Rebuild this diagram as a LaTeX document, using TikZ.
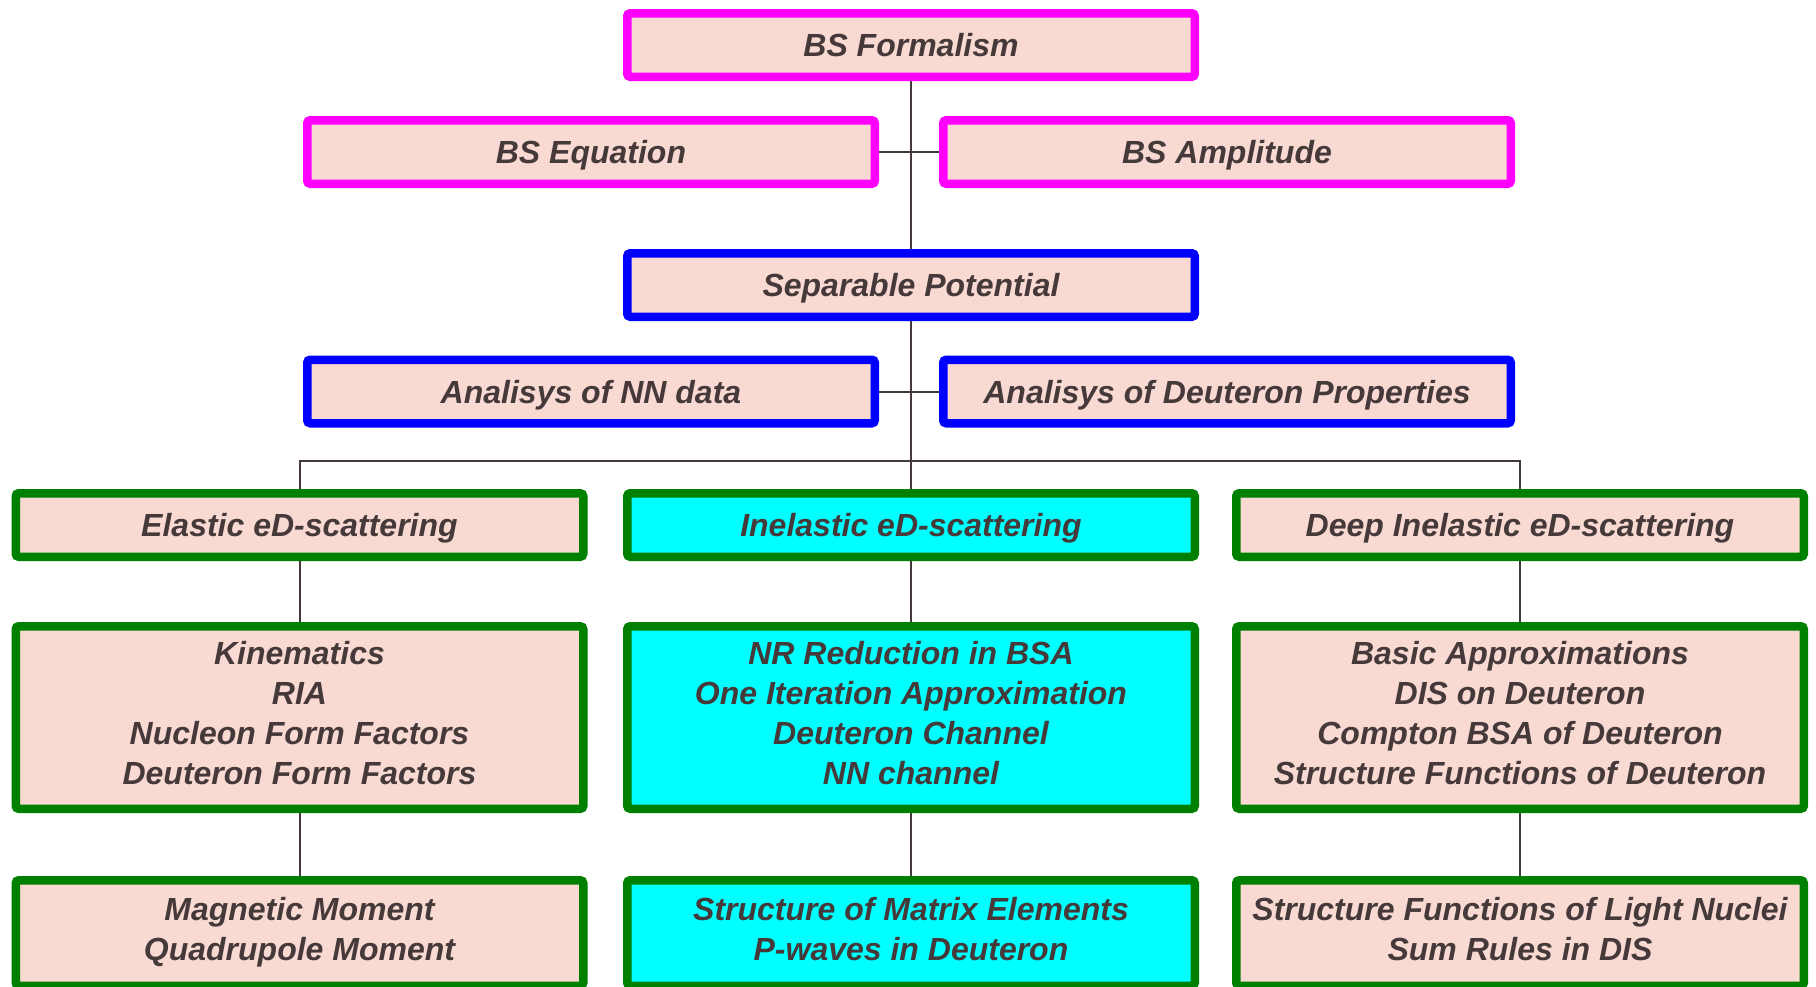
\documentclass[tikz,border=0pt]{standalone}
\usepackage{fontspec}
\setmainfont{Liberation Sans}
\definecolor{boxfill}{HTML}{F8DAD3}
\definecolor{txt}{HTML}{46393A}
\definecolor{mag}{HTML}{FF00FF}
\definecolor{blu}{HTML}{0000FF}
\definecolor{grn}{HTML}{008000}
\definecolor{cyn}{HTML}{00FFFF}
\newcommand\boxtopstrut{\rule[-8.5pt]{0pt}{\dimexpr40pt+\boxtopextra\relax}}
\newcommand\boxbotstrut{\rule[-8.5pt]{0pt}{40pt}}
\pgfdeclarelayer{bg}
\pgfsetlayers{bg,main}
\tikzset{
 topextra/.store in=\boxtopextra, topextra=0pt,
 basebox/.style={draw, line width=8.5pt, rounded corners=3pt, fill=boxfill, text=txt,
   font=\fontsize{32}{40}\selectfont\bfseries\itshape, align=center, inner sep=0pt,
   minimum width=567.5pt, minimum height=63.5pt, topextra=0pt,
   execute at begin node=\boxtopstrut, execute at end node=\boxbotstrut},
 magbox/.style={basebox, draw=mag},
 blubox/.style={basebox, draw=blu},
 grnbox/.style={basebox, draw=grn},
 cynbox/.style={grnbox, fill=cyn},
 tallbox/.style={minimum height=182.5pt, topextra=6pt},
 lowbox/.style={minimum height=105.5pt},
 conn/.style={draw=txt, line width=2pt}
}
\begin{document}
\begin{tikzpicture}[x=1pt,y=-1pt]
\useasboundingbox (0,0) rectangle (1816,986);
\node[magbox] (top) at (911,45) {BS Formalism};
\node[magbox] (eq) at (591,152) {BS Equation};
\node[magbox] (amp) at (1227,152) {BS Amplitude};
\node[blubox] (sep) at (911,285) {Separable Potential};
\node[blubox] (nn) at (591,391.5) {Analisys of NN data};
\node[blubox] (dp) at (1227,391.5) {Analisys of Deuteron Properties};
\node[grnbox] (el) at (299.5,525) {Elastic eD-scattering};
\node[cynbox] (inel) at (911,525) {Inelastic eD-scattering};
\node[grnbox] (dis) at (1520,525) {Deep Inelastic eD-scattering};
\node[grnbox,tallbox] (el2) at (299.5,717.5) {Kinematics\\RIA\\Nucleon Form Factors\\Deuteron Form Factors};
\node[cynbox,tallbox] (inel2) at (911,717.5) {NR Reduction in BSA\\One Iteration Approximation\\Deuteron Channel\\NN channel};
\node[grnbox,tallbox] (dis2) at (1520,717.5) {Basic Approximations\\DIS on Deuteron\\Compton BSA of Deuteron\\Structure Functions of Deuteron};
\node[grnbox,lowbox] (el3) at (299.5,933) {Magnetic Moment\\Quadrupole Moment};
\node[cynbox,lowbox] (inel3) at (911,933) {Structure of Matrix Elements\\P-waves in Deuteron};
\node[grnbox,lowbox] (dis3) at (1520,933) {Structure Functions of Light Nuclei\\Sum Rules in DIS};
\coordinate (bus) at (911,461);
\begin{pgfonlayer}{bg}
\draw[conn] (top.south) -- (sep.north);
\draw[conn] (eq.east) -- (amp.west);
\draw[conn] (sep.south) -- (bus);
\draw[conn] (nn.east) -- (dp.west);
\draw[conn] (el.north) |- (bus) -| (dis.north);
\draw[conn] (bus) -- (inel.north);
\draw[conn] (el.south) -- (el2.north);
\draw[conn] (inel.south) -- (inel2.north);
\draw[conn] (dis.south) -- (dis2.north);
\draw[conn] (el2.south) -- (el3.north);
\draw[conn] (inel2.south) -- (inel3.north);
\draw[conn] (dis2.south) -- (dis3.north);
\end{pgfonlayer}
\end{tikzpicture}
\end{document}
